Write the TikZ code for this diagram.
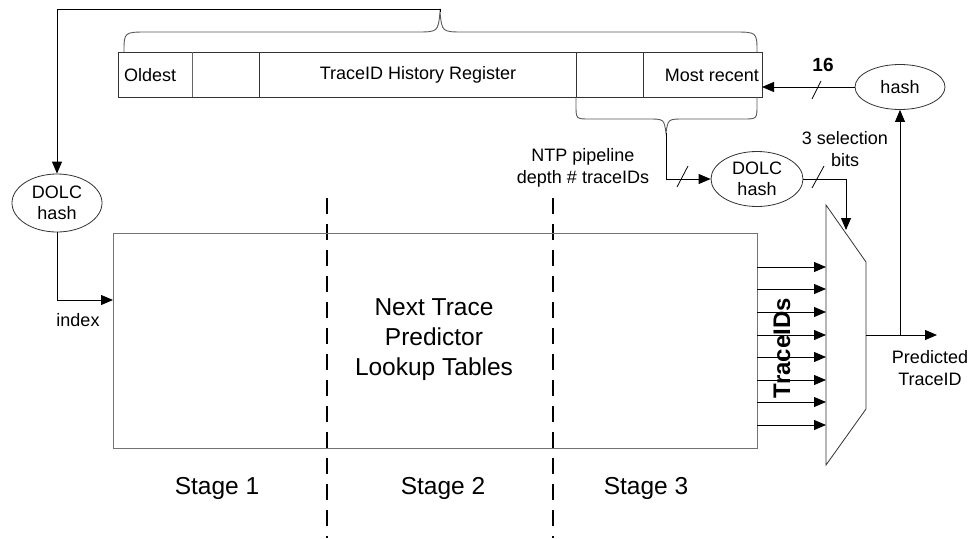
\documentclass[tikz,border=0pt]{standalone}
\usepackage{fontspec}
\setmainfont{Liberation Sans}
\usetikzlibrary{arrows.meta,shapes.geometric}
\begin{document}
\begin{tikzpicture}[x=1pt,y=-1pt,
  thinline/.style={line width=0.8pt},
  graybox/.style={draw=black!55,line width=1pt,inner sep=0pt},
  regline/.style={draw=black!80,line width=0.8pt},
  bracel/.style={draw=black!65,line width=0.9pt},
  arr/.style={draw=black,line width=0.8pt,-{Triangle[length=12pt,width=10pt]}},
  plain/.style={draw=black,line width=0.8pt},
  oval/.style={ellipse,draw=black!80,line width=0.8pt,inner sep=0pt,align=center,font=\fontsize{18}{21}\selectfont},
  txt/.style={align=center,inner sep=0pt,font=\fontsize{18}{22}\selectfont},
  bigtxt/.style={align=center,inner sep=0pt,font=\fontsize{24.5}{30}\selectfont},
  stagedash/.style={draw=black,line width=2pt,dash pattern=on 16pt off 10pt},
  slash/.style={draw=black,line width=0.8pt}]
\useasboundingbox (0,0) rectangle (971,538);
\fill[white] (0,0) rectangle (971,538);

% stage separators
\draw[stagedash] (327,198) -- (327,538);
\draw[stagedash] (553,198) -- (553,538);

% main lookup box
\node[graybox,fill=none,minimum width=644pt,minimum height=215pt] (box) at (435,340.5) {};
\node[bigtxt] (ntp) at (434,340) {Next Trace\\Predictor\\Lookup Tables};

% history register
\node[regline,draw,minimum width=644pt,minimum height=45pt,inner sep=0pt] (reg) at (440,74.5) {};
\draw[regline,draw=black!60] (192,52) -- (192,97);
\draw[regline] (259,52) -- (259,97);
\draw[regline] (576,52) -- (576,97);
\draw[regline] (643,52) -- (643,97);
\node[txt,anchor=west] (oldest) at (124,75) {Oldest};
\node[txt] (regname) at (418,75) {TraceID History Register};
\node[txt,anchor=east] (recent) at (759,75) {Most recent};

% upper brace
\coordinate (toptip) at (440,9);
\draw[bracel] (124,52) .. controls (124,32) .. (148,32) -- (416,32)
  .. controls (438,32) .. (440,12) .. controls (442,32) .. (464,32)
  -- (733,32) .. controls (757,32) .. (757,52);
\draw[plain] (440,12) -- (toptip);

% lower brace
\coordinate (lowtip) at (666,133);
\draw[bracel] (576,97) -- (576,105) .. controls (576,119) .. (590,119) -- (648,119)
  .. controls (664,119) .. (666,133) .. controls (668,119) .. (684,119)
  -- (743,119) .. controls (757,119) .. (757,105) -- (757,97);

% ovals
\node[oval,minimum width=90pt,minimum height=58pt] (dolcA) at (57,203) {DOLC\\hash};
\node[oval,minimum width=92pt,minimum height=55pt] (dolcB) at (757,179) {DOLC\\hash};
\node[oval,minimum width=90pt,minimum height=45pt] (hash) at (900,87) {hash};

% mux
\coordinate (m1) at (826,205);
\coordinate (m2) at (866,262);
\coordinate (m3) at (866,409);
\coordinate (m4) at (826,465);
\draw[regline] (m1) -- (m2) -- (m3) -- (m4) -- cycle;
\coordinate (muxctl) at (846,230);
\coordinate (muxout) at (866,335);
\coordinate (jn) at (900,335);
\coordinate (predend) at (937,335);

% connectors
\draw[arr] (toptip) -| (dolcA.north);
\coordinate (idx) at (113,300);
\draw[arr] (dolcA.south) |- (idx);
\draw[arr] (lowtip) |- (dolcB.west);
\draw[arr] (dolcB.east) -| (muxctl);
\coordinate (regin) at (762,87);
\draw[arr] (hash.west |- regin) -- (regin);
\draw[plain] (muxout) -- (jn);
\draw[arr] (jn) -- (predend);
\draw[arr] (jn) -- (hash.south);
\foreach \yy in {267,289,312,335,357,380,402,425}{
  \draw[arr] (757,\yy) -- (826,\yy);
}

% slashes
\draw[slash] (677,187) -- (688,166);
\draw[slash] (812,188) -- (824,166);
\draw[slash] (812,99) -- (821,81);

% labels
\node[txt] (lblidx) at (78,320) {index};
\node[txt] (lblpred) at (930,368) {Predicted\\TraceID};
\node[txt,font=\fontsize{19}{22}\selectfont\bfseries] (lbl16) at (823,65) {16};
\node[txt] (lblsel) at (845,149) {3 selection\\bits};
\node[txt] (lblntp) at (583,168) {NTP pipeline\\depth \# traceIDs};
\node[txt,font=\fontsize{24}{28}\selectfont\bfseries,rotate=90] (lbltid) at (782,348) {TraceIDs};

% stages
\node[bigtxt] (s1) at (217,488) {Stage 1};
\node[bigtxt] (s2) at (443,488) {Stage 2};
\node[bigtxt] (s3) at (646,488) {Stage 3};
\end{tikzpicture}
\end{document}
